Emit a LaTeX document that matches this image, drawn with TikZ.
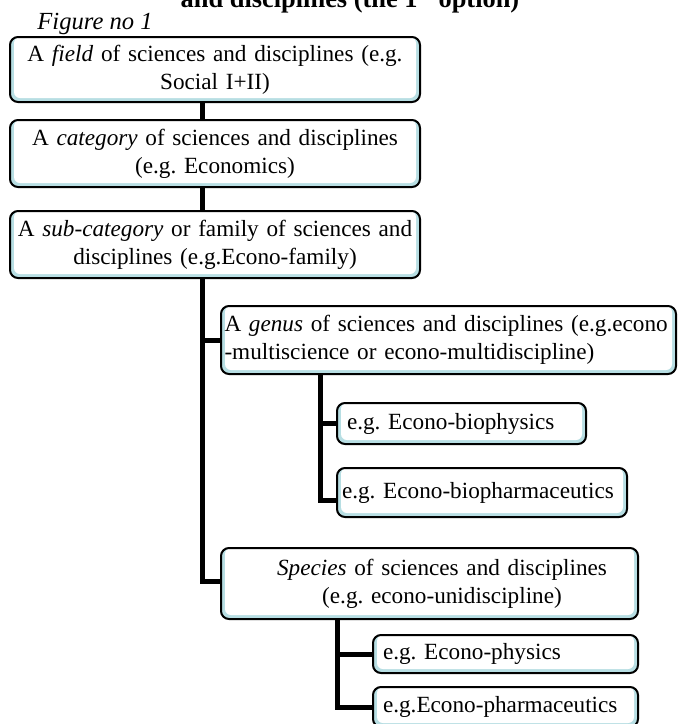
\documentclass[tikz,border=0pt]{standalone}
\usepackage{fontspec}
\setmainfont{Liberation Serif}
\usepackage{tikz}
\usetikzlibrary{positioning, calc}
\definecolor{boxcyan}{HTML}{B7DEE3}
\frenchspacing
\tikzset{
  levelbox/.style={draw=black, line width=1pt, rounded corners=4pt, fill=boxcyan, inner sep=0pt,
    font=\fontsize{11.6}{14}\selectfont,
    path picture={\fill[white, rounded corners=3pt]
      ([xshift=2pt, yshift=2pt]path picture bounding box.south west) rectangle
      ([xshift=-2pt]path picture bounding box.north east);}},
  link/.style={line width=2.5pt, line join=miter}
}

\begin{document}
\begin{tikzpicture}[x=0.5pt, y=-0.5pt]
    \useasboundingbox (0,0) rectangle (677,724);
    \clip (0,0) rectangle (677,724);
    % heading, cut at the top edge
    \node[anchor=base, inner sep=0pt, font=\fontsize{13.2}{15}\selectfont\bfseries] (title) at (350,7.5) {and disciplines (the 1\textsuperscript{st} option)};
    \node[anchor=base west, inner sep=0pt, font=\fontsize{12.3}{14}\selectfont\itshape] (fig) at (37,29.3) {Figure no 1};

    % upper levels
    \node[levelbox, minimum width=205pt, minimum height=32.5pt, text width=205pt, align=center] (field) at (215,69.5) {A \emph{field} of sciences and disciplines (e.g.\\ Social I+II)};
    \node[levelbox, minimum width=205pt, minimum height=33.5pt, text width=205pt, align=center] (category) at (215,153.5) {A \emph{category} of sciences and disciplines\\ (e.g. Economics)};
    \node[levelbox, minimum width=205pt, minimum height=33.5pt, text width=205pt, align=center] (subcat) at (215,244.5) {A \emph{sub-category} or family of sciences and\\ disciplines (e.g.Econo-family)};

    % genus branch
    \node[levelbox, minimum width=227.5pt, minimum height=34pt, text width=224pt, align=left] (genus) at (448.5,340) {\mbox{A \emph{genus} of sciences and disciplines (e.g.econo}\\ \mbox{-multiscience or econo-multidiscipline)}};
    \node[levelbox, minimum width=124.5pt, minimum height=20.5pt, text width=114.5pt, align=left] (biophys) at (461.5,423.5) {\mbox{e.g. Econo-biophysics}};
    \node[levelbox, minimum width=145pt, minimum height=24.5pt, text width=140pt, align=left] (biopharm) at (482,492.5) {\mbox{e.g. Econo-biopharmaceutics}};

    % species branch
    \node[levelbox, minimum width=208.5pt, minimum height=35.5pt, text width=200pt, align=center] (species) at (429.5,583.5) {\hspace*{12.5pt}\emph{Species} of sciences and disciplines\\ \hspace*{12.5pt}(e.g. econo-unidiscipline)};
    \node[levelbox, minimum width=132.5pt, minimum height=19pt, text width=122.5pt, align=left] (physics) at (505.5,654) {\mbox{e.g. Econo-physics}};
    \node[levelbox, minimum width=132.5pt, minimum height=20pt, text width=122.5pt, align=left] (pharma) at (505.5,707) {\mbox{e.g.Econo-pharmaceutics}};

    % connectors
    \coordinate (trunk) at (202.5,0);
    \coordinate (gtrunk) at (320.5,0);
    \coordinate (strunk) at (337.5,0);
    \draw[link] (field.south -| trunk) -- (category.north -| trunk);
    \draw[link] (category.south -| trunk) -- (subcat.north -| trunk);
    \draw[link] (subcat.south -| trunk) |- ([yshift=1pt]species.west);
    \draw[link] (genus.west -| trunk) -- (genus.west);
    \draw[link] (genus.south -| gtrunk) |- ([yshift=-4pt]biopharm.west);
    \draw[link] (biophys.west -| gtrunk) -- (biophys.west);
    \draw[link] (species.south -| strunk) |- (pharma.west);
    \draw[link] (physics.west -| strunk) -- (physics.west);
\end{tikzpicture}
\end{document}
